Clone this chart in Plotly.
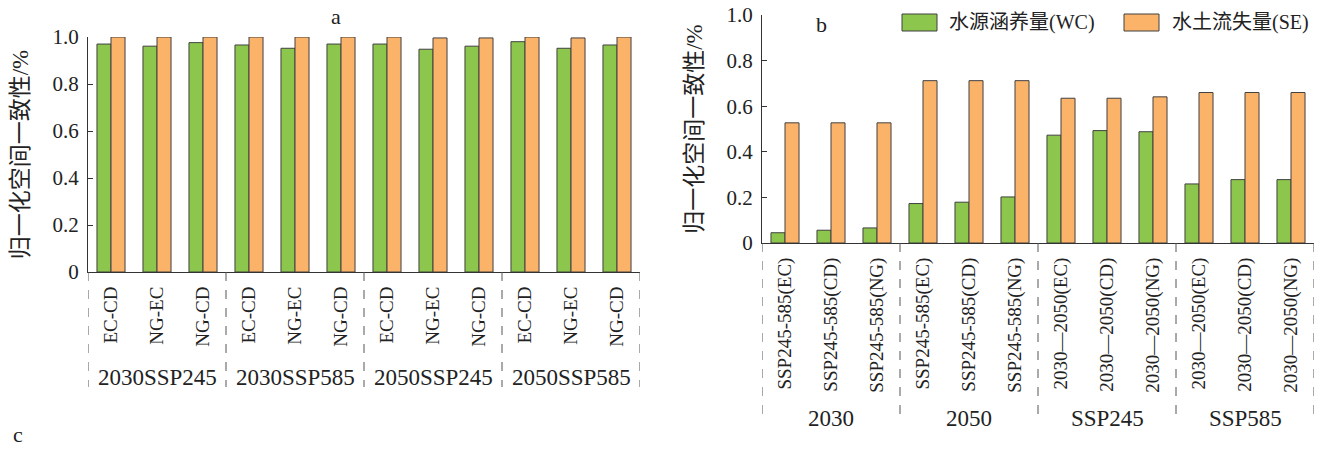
import plotly.graph_objects as go

# ---------------- data ----------------
series_names = ["水源涵养量(WC)", "水土流失量(SE)"]
series_colors = ["#8CC64C", "#FBB36A"]

cats_a = ["EC-CD", "NG-EC", "NG-CD"] * 4
groups_a = ["2030SSP245", "2030SSP585", "2050SSP245", "2050SSP585"]
wc_a = [0.970, 0.961, 0.976, 0.966, 0.952, 0.970, 0.970, 0.948, 0.961, 0.980, 0.952, 0.966]
se_a = [1.000, 1.000, 1.000, 1.000, 1.000, 1.000, 1.000, 0.996, 0.996, 1.000, 0.996, 1.000]

cats_b = ["SSP245-585(EC)", "SSP245-585(CD)", "SSP245-585(NG)"] * 2 + \
         ["2030—2050(EC)", "2030—2050(CD)", "2030—2050(NG)"] * 2
groups_b = ["2030", "2050", "SSP245", "SSP585"]
wc_b = [0.045, 0.056, 0.066, 0.173, 0.179, 0.202, 0.473, 0.493, 0.488, 0.259, 0.278, 0.278]
se_b = [0.527, 0.527, 0.527, 0.712, 0.712, 0.712, 0.635, 0.635, 0.641, 0.660, 0.660, 0.660]

y_ticks = [0, 0.2, 0.4, 0.6, 0.8, 1.0]
y_ticktext = ["0", "0.2", "0.4", "0.6", "0.8", "1.0"]
y_title = "归一化空间一致性/%"

# ---------------- layout geometry (pixels in the 1323x449 window) ----------------
W, H = 1323, 449
FONT = "Liberation Serif, 'Times New Roman', 'Noto Sans CJK SC', serif"
TXT = "#222222"
LINE = "#333333"

def px_x(p):
    return p / W

def px_y(p):
    return 1 - p / H

pa = dict(x0=88, x1=640, y0=37, y1=272, grp_y=377, dash_bot=387)
pb = dict(x0=762, x1=1314, y0=15, y1=243, grp_y=418, dash_bot=423)

fig = go.Figure()

xs = list(range(12))
for vals, name, col in [(wc_a, series_names[0], series_colors[0]), (se_a, series_names[1], series_colors[1])]:
    fig.add_trace(go.Bar(x=xs, y=vals, name=name, marker=dict(color=col, line=dict(color="#404040", width=1)),
                         xaxis="x", yaxis="y", showlegend=False))
for vals, name, col in [(wc_b, series_names[0], series_colors[0]), (se_b, series_names[1], series_colors[1])]:
    fig.add_trace(go.Bar(x=xs, y=vals, name=name, marker=dict(color=col, line=dict(color="#404040", width=1)),
                         xaxis="x2", yaxis="y2", showlegend=False))

def xaxis_cfg(p, cats, anchor):
    return dict(domain=[px_x(p["x0"]), px_x(p["x1"])], range=[-0.5, 11.5], anchor=anchor,
                tickmode="array", tickvals=xs, ticktext=cats, tickangle=-90, automargin=False,
                showline=True, linecolor=LINE, linewidth=1, ticks="", showgrid=False, zeroline=False,
                tickfont=dict(family=FONT, size=19, color=TXT), ticklabelstandoff=6, fixedrange=True)

def yaxis_cfg(p, anchor):
    return dict(domain=[px_y(p["y1"]), px_y(p["y0"])], range=[0, 1.0], anchor=anchor,
                tickmode="array", tickvals=y_ticks, ticktext=y_ticktext, automargin=False,
                showline=True, linecolor=LINE, linewidth=1, ticks="inside", ticklen=5, tickcolor=LINE,
                showgrid=False, zeroline=False, ticklabelstandoff=4, ticklabeloverflow="allow",
                tickfont=dict(family=FONT, size=21, color=TXT),
                title=dict(text=y_title, font=dict(family=FONT, size=23, color=TXT), standoff=17),
                fixedrange=True)

fig.update_layout(
    width=W, height=H, margin=dict(l=0, r=0, t=0, b=0, autoexpand=False),
    paper_bgcolor="white", plot_bgcolor="white",
    barmode="group", bargap=0.39, bargroupgap=0,
    font=dict(family=FONT, color=TXT),
    xaxis=xaxis_cfg(pa, cats_a, "y"),
    yaxis=yaxis_cfg(pa, "x"),
    xaxis2=xaxis_cfg(pb, cats_b, "y2"),
    yaxis2=yaxis_cfg(pb, "x2"),
)

shapes = []
annotations = []
for p, groups, xref in [(pa, groups_a, "x"), (pb, groups_b, "x2")]:
    for i in range(len(groups) + 1):
        shapes.append(dict(type="line", xref=xref, yref="paper", x0=-0.5 + 3 * i, x1=-0.5 + 3 * i,
                           y0=px_y(p["y1"]), y1=px_y(p["dash_bot"]),
                           line=dict(color="#555555", width=1, dash="dash")))
    for i, g in enumerate(groups):
        annotations.append(dict(text=g, xref=xref, yref="paper", x=1 + 3 * i, y=px_y(p["grp_y"]),
                                showarrow=False, xanchor="center", yanchor="middle",
                                font=dict(family=FONT, size=23, color=TXT)))

# panel letters
annotations.append(dict(text="a", xref="paper", yref="paper", x=px_x(336), y=px_y(17), showarrow=False,
                        xanchor="center", yanchor="middle", font=dict(family=FONT, size=22, color=TXT)))
annotations.append(dict(text="b", xref="paper", yref="paper", x=px_x(821), y=px_y(24), showarrow=False,
                        xanchor="center", yanchor="middle", font=dict(family=FONT, size=22, color=TXT)))
annotations.append(dict(text="c", xref="paper", yref="paper", x=px_x(18), y=px_y(434), showarrow=False,
                        xanchor="center", yanchor="middle", font=dict(family=FONT, size=22, color=TXT)))

# legend (manual boxes + text)
leg = [(902, 937, 947), (1124, 1159, 1170)]
for (bx0, bx1, tx), name, col in zip(leg, series_names, series_colors):
    shapes.append(dict(type="rect", xref="paper", yref="paper", x0=px_x(bx0), x1=px_x(bx1),
                       y0=px_y(31), y1=px_y(14), fillcolor=col, line=dict(color="#404040", width=1)))
    annotations.append(dict(text=name, xref="paper", yref="paper", x=px_x(tx), y=px_y(22.5), showarrow=False,
                            xanchor="left", yanchor="middle", font=dict(family=FONT, size=20, color=TXT)))

fig.update_layout(shapes=shapes, annotations=annotations)

fig.write_html("out.html", config={"displayModeBar": False},
               post_script="document.body.style.margin='0';document.body.style.overflow='hidden';")
